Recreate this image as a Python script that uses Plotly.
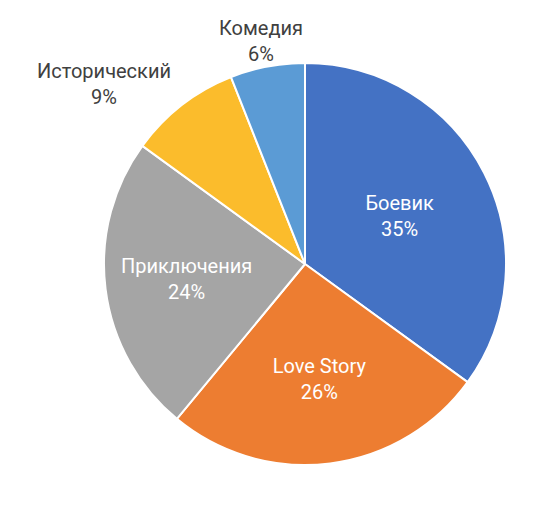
import plotly.graph_objects as go

genres = ["Боевик", "Love Story", "Приключения", "Исторический", "Комедия"]
shares = [35, 26, 24, 9, 6]
colors = ["#4472C4", "#ED7D31", "#A5A5A5", "#FBBC2C", "#5B9BD5"]
text_pos = ["inside", "inside", "inside", "none", "none"]

fig = go.Figure()
fig.add_trace(go.Pie(
    labels=genres,
    values=shares,
    sort=False,
    direction="clockwise",
    rotation=0,
    marker=dict(colors=colors, line=dict(color="white", width=2)),
    texttemplate="%{label}<br>%{percent:.0%}",
    textposition=text_pos,
    insidetextorientation="horizontal",
    textfont=dict(family="Roboto", size=20, color="white"),
    hoverinfo="label+percent",
    domain=dict(x=[96 / 546, 498 / 546], y=[1 - 457 / 518, 1 - 55 / 518]),
    showlegend=False,
))

# outside labels for the two small slices, placed like the original
label_xy = {"Исторический": (96, 76), "Комедия": (253, 33)}
for name, share in zip(genres, shares):
    if name in label_xy:
        px, py = label_xy[name]
        fig.add_annotation(
            x=px / 546, y=1 - py / 518, xref="paper", yref="paper",
            text=f"{name}<br>{share}%", showarrow=False,
            font=dict(family="Roboto", size=20, color="#404040"),
            xanchor="center", yanchor="middle", align="center",
        )

fig.update_layout(
    width=546,
    height=518,
    margin=dict(l=0, r=0, t=0, b=0),
    paper_bgcolor="white",
    plot_bgcolor="white",
)

fig.write_html("out.html")
